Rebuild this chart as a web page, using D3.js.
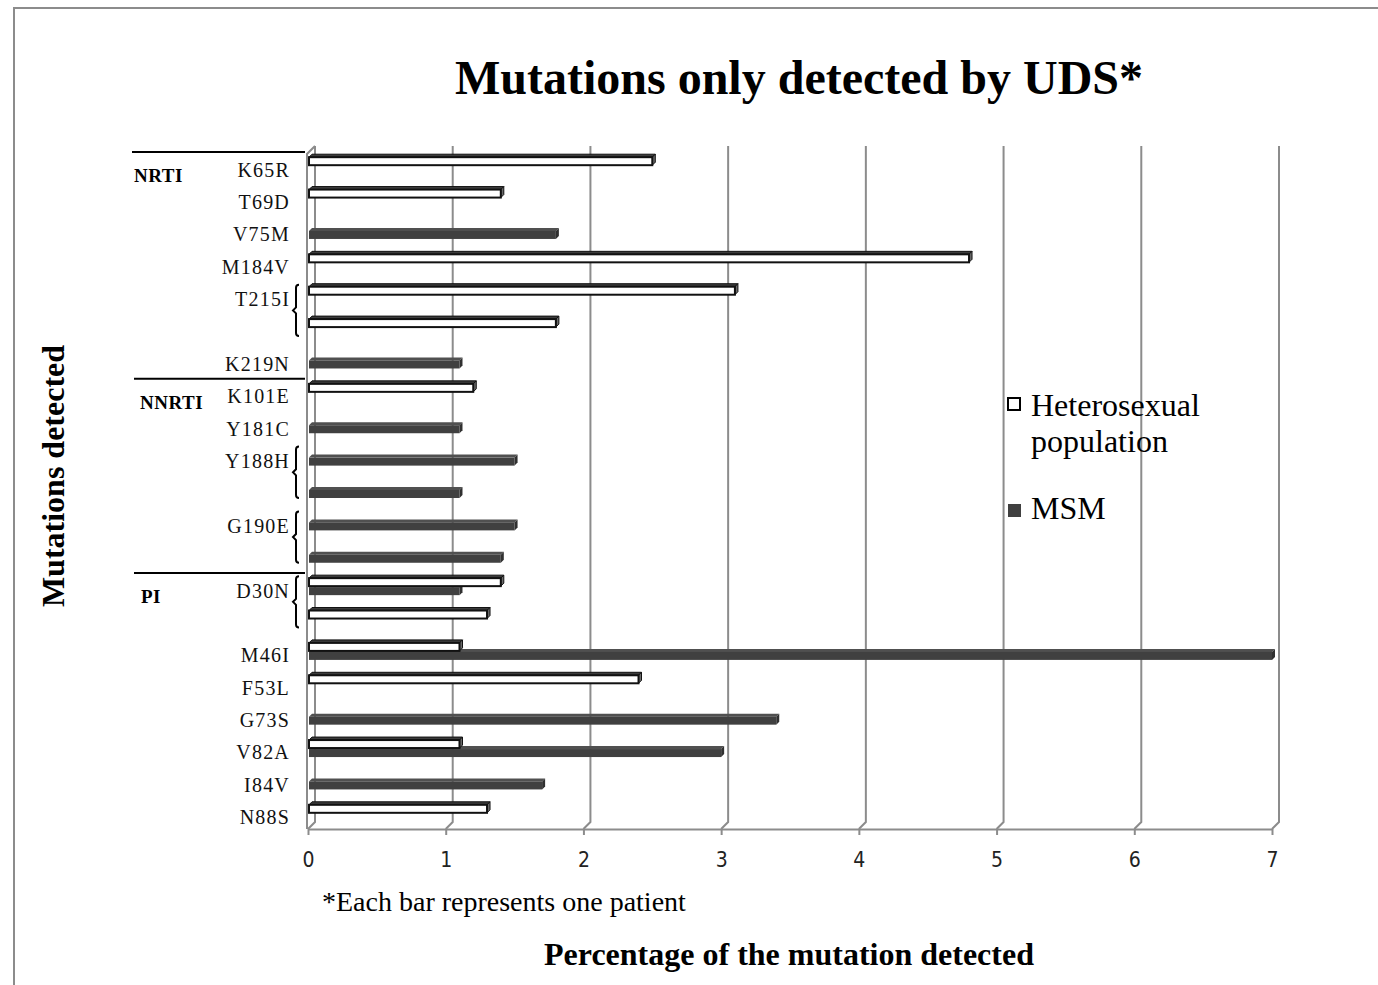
<!DOCTYPE html>
<html>
<head>
<meta charset="utf-8">
<script src="https://cdn.jsdelivr.net/npm/d3@7"></script>
<style>
  html, body { margin: 0; padding: 0; background: #fff; }
</style>
</head>
<body>
<div class="root"></div>
<script>
// Chart data
var categories = ["K65R", "T69D", "V75M", "M184V", "T215I", "", "K219N", "K101E", "Y181C", "Y188H", "",
  "G190E", "", "D30N", "", "M46I", "F53L", "G73S", "V82A", "I84V", "N88S"];
var hetero = [2.5, 1.4, null, 4.8, 3.1, 1.8, null, 1.2, null, null, null,
  null, null, 1.4, 1.3, 1.1, 2.4, null, 1.1, null, 1.3];
var msm = [null, null, 1.8, null, null, null, 1.1, null, 1.1, 1.5, 1.1,
  1.5, 1.4, 1.1, null, 7.0, null, 3.4, 3.0, 1.7, null];
var xTicks = [0, 1, 2, 3, 4, 5, 6, 7];
var groups = [{ name: "NRTI", start: 0 }, { name: "NNRTI", start: 7 }, { name: "PI", start: 13 }];
var brackets = [[4, 5], [9, 10], [11, 12], [13, 14]];
var seriesNames = ["Heterosexual", "MSM"];

var width = 1378, height = 985;
var serif = "'Liberation Serif', 'Times New Roman', serif";
var gridColor = "#8c8c8c";
var dark = "#404040";
var depth = 3;   // 3D depth of bars
var wall = 7;    // 3D depth of the walls

var svg = d3.select(".root").append("svg")
  .attr("width", width)
  .attr("height", height);

// outer frame
svg.append("path")
  .attr("d", "M14,990 L14,8 L1390,8")
  .attr("fill", "none")
  .attr("stroke", gridColor)
  .attr("stroke-width", 2);

// scales
const xScale = d3.scaleLinear().domain([0, 7]).range([308, 1272]);
const yScale = d3.scaleBand().domain(d3.range(categories.length)).range([149, 829]);
const floorY = 829;
const topY = 146;
function mid(i) { return yScale(i) + yScale.bandwidth() / 2; }

// gridlines with the 3D back wall offset
svg.append("g").selectAll("path")
  .data(xTicks)
  .join("path")
  .attr("d", d => {
    var x = xScale(d);
    return "M" + (x + wall) + "," + topY + " L" + (x + wall) + "," + (floorY - wall) + " L" + x + "," + floorY;
  })
  .attr("fill", "none")
  .attr("stroke", gridColor)
  .attr("stroke-width", 2);

// left wall front edge
svg.append("path")
  .attr("d", "M" + (xScale(0) + wall) + "," + topY + " L" + (xScale(0) - 1) + "," + (topY + wall + 1) + " L" + (xScale(0) - 1) + "," + floorY)
  .attr("fill", "none")
  .attr("stroke", gridColor)
  .attr("stroke-width", 2);

// X axis
const xAxis = d3.axisBottom(xScale)
  .tickValues(xTicks)
  .tickFormat(d3.format("d"))
  .tickSize(6)
  .tickSizeOuter(0)
  .tickPadding(17);

var gx = svg.append("g")
  .attr("transform", "translate(0," + floorY + ")")
  .call(xAxis);
gx.select(".domain").attr("stroke", gridColor).attr("stroke-width", 2);
gx.selectAll(".tick line").attr("stroke", gridColor).attr("stroke-width", 2);
gx.selectAll(".tick text")
  .attr("font-family", "'Liberation Sans Narrow', 'DejaVu Sans Condensed', sans-serif")
  .attr("font-stretch", "condensed")
  .attr("font-size", 21)
  .attr("fill", "#222");

// Y axis (category labels)
const yAxis = d3.axisLeft(yScale)
  .tickSize(0)
  .tickPadding(0)
  .tickFormat(i => categories[i]);

var gy = svg.append("g")
  .attr("transform", "translate(290,5)")
  .call(yAxis);
gy.select(".domain").remove();
gy.selectAll(".tick text")
  .attr("font-family", serif)
  .attr("font-size", 20)
  .attr("letter-spacing", 1.2)
  .attr("fill", "#111");

// bars: front face, top face and end face
function drawBars(values, cls, yOff, h, front, topFill, sideFill, stroke) {
  var rows = values.map((v, i) => ({ v: v, i: i })).filter(d => d.v != null);
  var g = svg.append("g").attr("class", cls);
  var bar = g.selectAll("g").data(rows).join("g");
  bar.append("path")
    .attr("d", d => {
      var x0 = xScale(0) + 1, x1 = xScale(d.v), y = mid(d.i) + yOff;
      return "M" + x0 + "," + y + " L" + x1 + "," + y + " L" + (x1 + depth) + "," + (y - depth) +
        " L" + (x0 + depth) + "," + (y - depth) + "Z";
    })
    .attr("fill", topFill)
    .attr("stroke", stroke)
    .attr("stroke-width", 1);
  bar.append("path")
    .attr("d", d => {
      var x1 = xScale(d.v), y = mid(d.i) + yOff;
      return "M" + x1 + "," + y + " L" + (x1 + depth) + "," + (y - depth) + " L" + (x1 + depth) + "," + (y + h - depth) +
        " L" + x1 + "," + (y + h) + "Z";
    })
    .attr("fill", sideFill)
    .attr("stroke", stroke)
    .attr("stroke-width", 1);
  bar.append("rect")
    .attr("x", xScale(0) + 1)
    .attr("y", d => mid(d.i) + yOff)
    .attr("width", d => xScale(d.v) - xScale(0) - 1)
    .attr("height", h)
    .attr("fill", front)
    .attr("stroke", stroke)
    .attr("stroke-width", stroke === "none" ? 0 : 2);
}

drawBars(msm, "msm", 1, 8, dark, "#505050", "#303030", "none");
drawBars(hetero, "hetero", -8, 8, "#fff", "#3c3c3c", "#6a6a6a", "#111");

// group separators and labels
var gg = svg.append("g").selectAll("g").data(groups).join("g");
gg.append("line")
  .attr("x1", (d, i) => i === 0 ? 132 : 134)
  .attr("x2", 305)
  .attr("y1", d => yScale(d.start) + 3)
  .attr("y2", d => yScale(d.start) + 3)
  .attr("stroke", "#000")
  .attr("stroke-width", 2);
gg.append("text")
  .attr("x", (d, i) => [134, 140, 141][i])
  .attr("y", d => mid(d.start) + 17)
  .attr("font-family", serif)
  .attr("font-weight", 700)
  .attr("font-size", 19)
  .attr("letter-spacing", 0.5)
  .text(d => d.name);

// braces joining the two bars of a mutation
svg.append("g").selectAll("path")
  .data(brackets)
  .join("path")
  .attr("d", d => {
    var x = 296, y0 = mid(d[0]) - 10, y1 = mid(d[1]) + 9, ym = (y0 + y1) / 2;
    return "M" + (x + 3) + "," + y0 + " Q" + x + "," + y0 + " " + x + "," + (y0 + 3) +
      " L" + x + "," + (ym - 3) + " L" + (x - 3) + "," + ym + " L" + x + "," + (ym + 3) +
      " L" + x + "," + (y1 - 3) + " Q" + x + "," + y1 + " " + (x + 3) + "," + y1;
  })
  .attr("fill", "none")
  .attr("stroke", "#000")
  .attr("stroke-width", 2);

// legend
var legend = svg.append("g");
legend.append("rect")
  .attr("x", 1008).attr("y", 398).attr("width", 12).attr("height", 12)
  .attr("fill", "#fff").attr("stroke", "#000").attr("stroke-width", 2);
legend.append("text")
  .attr("x", 1031).attr("y", 416)
  .attr("font-family", serif).attr("font-size", 32)
  .text(seriesNames[0]);
legend.append("text")
  .attr("x", 1031).attr("y", 452)
  .attr("font-family", serif).attr("font-size", 32)
  .text("population");
legend.append("rect")
  .attr("x", 1008).attr("y", 504).attr("width", 13).attr("height", 13)
  .attr("fill", dark);
legend.append("text")
  .attr("x", 1031).attr("y", 519)
  .attr("font-family", serif).attr("font-size", 32)
  .text(seriesNames[1]);

// title
svg.append("text")
  .attr("x", 799)
  .attr("y", 94)
  .attr("text-anchor", "middle")
  .attr("font-family", serif)
  .attr("font-weight", 700)
  .attr("font-size", 48)
  .text("Mutations only detected by UDS*");

// Y axis title
svg.append("text")
  .attr("transform", "translate(64,476) rotate(-90)")
  .attr("text-anchor", "middle")
  .attr("font-family", serif)
  .attr("font-weight", 700)
  .attr("font-size", 32)
  .text("Mutations detected");

// X axis title
svg.append("text")
  .attr("x", 789)
  .attr("y", 965)
  .attr("text-anchor", "middle")
  .attr("font-family", serif)
  .attr("font-weight", 700)
  .attr("font-size", 32)
  .text("Percentage of the mutation detected");

// footnote
svg.append("text")
  .attr("x", 322)
  .attr("y", 911)
  .attr("font-family", serif)
  .attr("font-size", 28)
  .text("*Each bar represents one patient");
</script>
</body>
</html>
